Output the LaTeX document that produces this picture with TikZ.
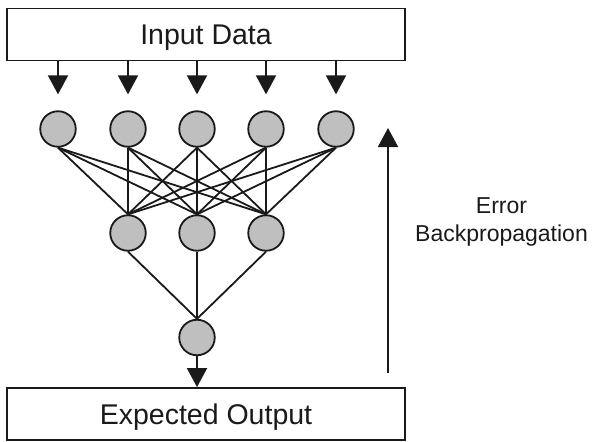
\documentclass[tikz,border=0pt]{standalone}
\usepackage{fontspec}
\setmainfont{Liberation Sans}
\usetikzlibrary{arrows.meta}
\definecolor{ink}{HTML}{1A1A1A}
\definecolor{nodegray}{HTML}{BEBFBE}
\begin{document}
\begin{tikzpicture}[x=1pt,y=-1pt,
  databox/.style={draw=ink, line width=1.8pt, rectangle, minimum width=398pt, minimum height=52pt,
    inner sep=0pt, text height=20.5pt, text depth=0pt, font=\fontsize{28.5}{34}\selectfont, text=ink},
  neuron/.style={circle, draw=ink, fill=nodegray, line width=1.8pt, minimum size=35.5pt, inner sep=0pt},
  link/.style={line width=1.8pt, draw=ink},
  arr/.style={line width=1.9pt, draw=ink, -{Triangle[length=19pt,width=20pt]}},
  lbl/.style={align=center, inner sep=0pt, font=\fontsize{23}{28.4}\selectfont, text=ink}]
\useasboundingbox (0,0) rectangle (593,441);
\fill[white] (0,0) rectangle (593,441);

\node[databox] (inbox) at (206,34.5) {Input Data};
\node[databox] (outbox) at (206,414) {Expected Output};

\foreach \i/\x in {1/58,2/128,3/197,4/266,5/336}
  \node[neuron] (i\i) at (\x,129) {};
\foreach \j/\x in {1/128,2/197,3/266}
  \node[neuron] (h\j) at (\x,233) {};
\node[neuron] (o) at (197,337.5) {};

\foreach \i in {1,...,5}
  \draw[arr, shorten >=16pt] (inbox.south -| i\i) -- (i\i.north);

\foreach \i in {1,...,5}
  \foreach \j in {1,2,3}
    \draw[link] (i\i.south) -- (h\j.north);
\foreach \j in {1,2,3}
  \draw[link] (h\j.south) -- (o.north);

\draw[arr] (o.south) -- (outbox.north -| o);

\coordinate (eb) at (388,373);
\coordinate (et) at (388,128);
\draw[arr] (eb) -- (et);

\node[lbl] (elabel) at (501.5,221.7) {Error\\Backpropagation};
\end{tikzpicture}
\end{document}
